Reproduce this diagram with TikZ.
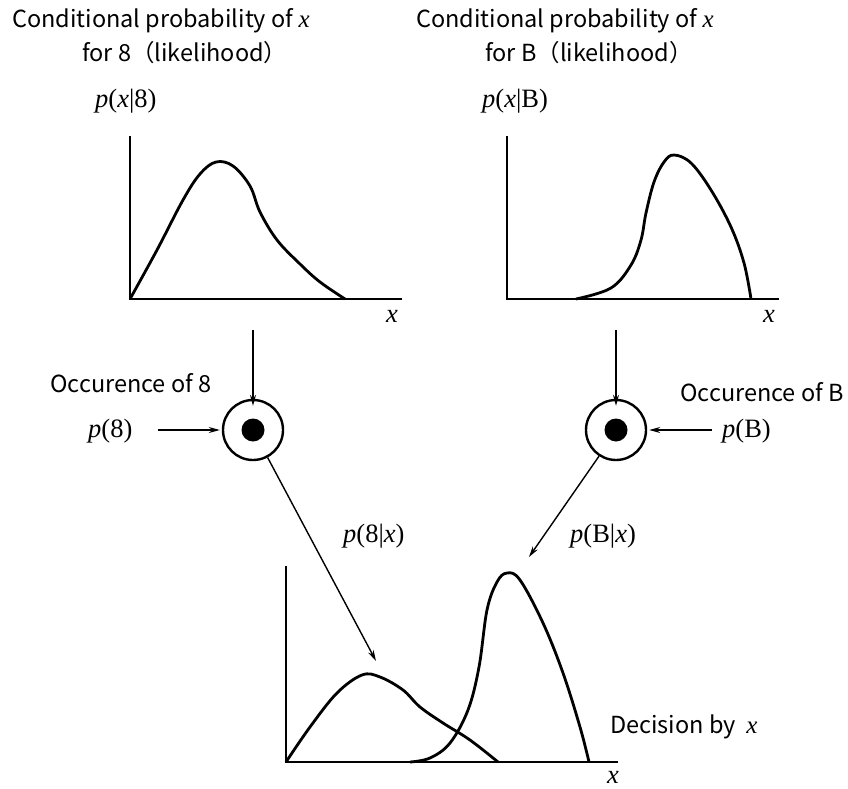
\documentclass[tikz,border=0pt]{standalone}
\usepackage{fontspec}
\setmainfont{Liberation Serif}
\newfontfamily\jsans{Noto Sans CJK JP}
\usetikzlibrary{arrows.meta}
\newcommand{\mi}[1]{{\itshape #1}}
\newcommand{\tx}{{\rmfamily\itshape\fontsize{25}{26}\selectfont x}}
\begin{document}
\begin{tikzpicture}[x=1pt,y=-1pt,
  lbl/.style={font=\jsans\fontsize{23.5}{26}\selectfont, inner sep=0pt},
  mth/.style={font=\fontsize{26.5}{28}\selectfont, inner sep=0pt},
  axis/.style={line width=2pt},
  curve/.style={line width=2.8pt, line join=round},
  conn/.style={line width=1.4pt, -{Stealth[length=11pt,width=6pt]}},
  ring/.style={circle, draw, line width=2.4pt, minimum size=60pt, inner sep=0pt},
  dot/.style={circle, fill, minimum width=21pt, minimum height=23pt, inner sep=0pt},
]
\useasboundingbox (0,0) rectangle (848,789);
% titles
\node[lbl, anchor=west] (t1a) at (12,21) {Conditional probability of \tx};
\node[lbl, anchor=west] (t1b) at (82,53) {for 8（likelihood）};
\node[mth, anchor=west] (l1) at (95,101) {\mi{p}(\mi{x}|8)};
\node[lbl, anchor=west] (t2a) at (416,21) {Conditional probability of \tx};
\node[lbl, anchor=west] (t2b) at (485,53) {for B（likelihood）};
\node[mth, anchor=west] (l2) at (482,101) {\mi{p}(\mi{x}|B)};
% top-left plot
\coordinate (o1) at (130,299);
\draw[axis] (130,136) -- (o1) -- (402,299);
\node[mth] (x1) at (392,316) {\mi{x}};
\draw[curve] plot[smooth, tension=0.6] coordinates {(130,299) (157,250) (183,200) (200,174) (216,162) (233,166) (250,186) (260,212) (277,240) (300,264) (320,282) (345,299)};
% top-right plot
\coordinate (o2) at (507,299);
\draw[axis] (507,136) -- (o2) -- (779,299);
\node[mth] (x2) at (769,316) {\mi{x}};
\draw[curve] plot[smooth, tension=0.6] coordinates {(576,299) (611,288) (631,265) (641,240) (646,213) (654,182) (664,162) (674,155) (691,163) (711,190) (731,227) (744,263) (751,299)};
% circles
\node[ring] (c8) at (253,430) {};
\node[dot] (d8) at (c8) {};
\node[ring] (cB) at (616,430) {};
\node[dot] (dB) at (cB) {};
\coordinate (a8) at (253,330);
\coordinate (aB) at (616,330);
\draw[conn] (a8) -- ([yshift=-7pt]c8.north);
\draw[conn] (aB) -- ([yshift=-7pt]cB.north);
\node[lbl, anchor=west] (o8) at (50,383) {Occurence of 8};
\node[lbl, anchor=west] (oB) at (680,392) {Occurence of B};
\node[mth, anchor=west] (p8) at (88,431) {\mi{p}(8)};
\node[mth, anchor=west] (pB) at (722,431) {\mi{p}(B)};
\coordinate (s8) at (158,430);
\coordinate (sB) at (712,430);
\draw[conn] (s8) -- ([xshift=-2pt]c8.west);
\draw[conn] (sB) -- ([xshift=2pt]cB.east);
% bottom plot
\coordinate (o3) at (286,762);
\draw[axis] (286,566) -- (o3) -- (618,762);
\node[mth] (x3) at (613,777) {\mi{x}};
\draw[curve] plot[smooth, tension=0.6] coordinates {(286,762) (310,727) (337,693) (362,675) (380,677) (403,690) (420,707) (443,723) (470,740) (498,762)};
\draw[curve] plot[smooth, tension=0.6] coordinates {(410,762) (430,758) (450,743) (468,710) (479,667) (487,610) (497,582) (507,573) (520,580) (543,623) (563,673) (580,727) (589,762)};
\coordinate (e8) at (376,661);
\coordinate (eB) at (529,557);
\draw[conn] (c8.-62) -- (e8);
\draw[conn] (cB.-123) -- (eB);
\node[mth, anchor=west] (q8) at (343,536) {\mi{p}(8|\mi{x})};
\node[mth, anchor=west] (qB) at (570,536) {\mi{p}(B|\mi{x})};
\node[lbl, anchor=west] (dec) at (610,727) {Decision by \ \tx};
\end{tikzpicture}
\end{document}
